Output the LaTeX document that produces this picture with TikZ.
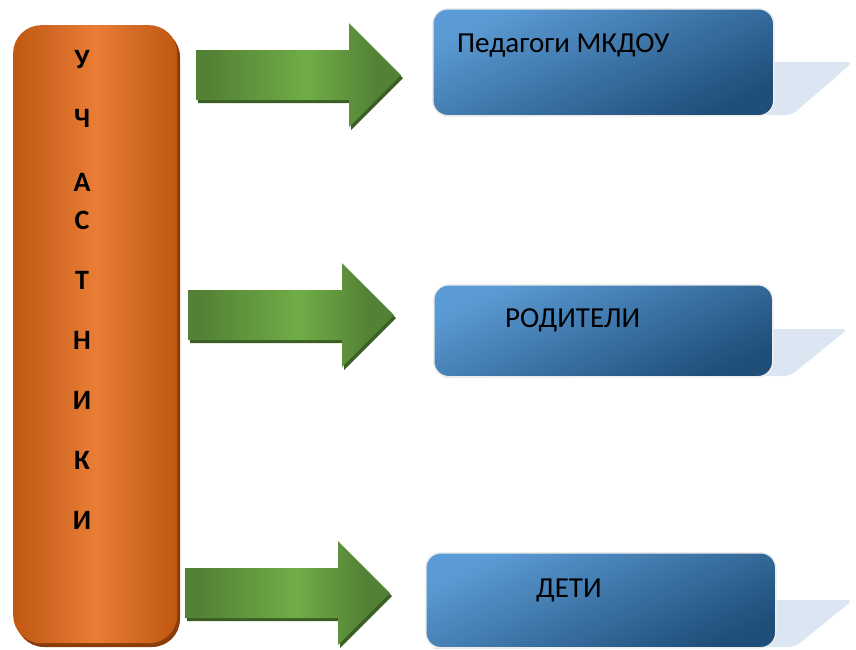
\documentclass[tikz,border=0pt]{standalone}
\usepackage{fontspec}
\setmainfont{Carlito}
\usetikzlibrary{positioning}
\definecolor{oradk}{HTML}{C25810}
\definecolor{oramid}{HTML}{CC6420}
\definecolor{oralt}{HTML}{EA7D35}
\definecolor{orashadow}{HTML}{8A3D0B}
\definecolor{grndk}{HTML}{538135}
\definecolor{grnlt}{HTML}{70AD47}
\definecolor{grnshadow}{HTML}{3B5E25}
\definecolor{blult}{HTML}{5B9BD5}
\definecolor{bludk}{HTML}{1F4E79}
\definecolor{blushadow}{HTML}{DCE6F2}
\definecolor{bluframe}{HTML}{EDEDED}
\pgfdeclarehorizontalshading{orangebar}{100bp}{color(0bp)=(oradk); color(25bp)=(oradk); color(34bp)=(oramid); color(50bp)=(oralt); color(66bp)=(oramid); color(75bp)=(oradk); color(100bp)=(oradk)}
\pgfdeclarehorizontalshading{greenbar}{100bp}{color(0bp)=(grndk); color(28bp)=(grndk); color(52bp)=(grnlt); color(69bp)=(grndk); color(100bp)=(grndk)}
\tikzset{
  letter/.style={font=\fontsize{28}{30}\selectfont\bfseries, inner sep=0pt},
  boxtext/.style={font=\fontsize{29}{34}\selectfont, inner sep=0pt, anchor=base west},
  bluebox/.style={rectangle, rounded corners=15pt, draw=bluframe, line width=1.5pt,
    top color=blult, bottom color=bludk, shading angle=25, anchor=north west},
  bigarrow/.pic={
    \fill[grnshadow] (2,-22) -- (#1+2,-22) -- (#1+2,-49) -- (#1+54,3) -- (#1+2,55) -- (#1+2,28) -- (2,28) -- cycle;
    \path[shading=greenbar] (0,-25) -- (#1,-25) -- (#1,-52) -- (#1+52,0) -- (#1,52) -- (#1,25) -- (0,25) -- cycle;
  }
}
\begin{document}
\begin{tikzpicture}[x=1pt,y=-1pt]
  \useasboundingbox (0,0) rectangle (856,649);

  % participants column
  \fill[orashadow, rounded corners=28pt] (16,29) rectangle (180,647);
  \node[rectangle, rounded corners=28pt, shading=orangebar, anchor=north west,
    minimum width=164pt, minimum height=618pt, inner sep=0pt] (col) at (13,25) {};
  \foreach \ch/\yy [count=\i] in {У/60,Ч/118,А/182,С/220,Т/280,Н/340,И/400,К/460,И/520}
    \node[letter] (l\i) at (82,\yy) {\ch};

  % arrows
  \pic at (196,75) {bigarrow=153};
  \pic at (188,315) {bigarrow=154};
  \pic at (185,593) {bigarrow=153};

  % shadows behind the boxes
  \fill[blushadow, rounded corners=6pt] (600,62) -- (853,62) -- (792,115) -- (440,117) -- cycle;
  \fill[blushadow, rounded corners=6pt] (600,329) -- (848,329) -- (790,376) -- (440,378) -- cycle;
  \fill[blushadow, rounded corners=6pt] (600,600) -- (853,600) -- (795,647) -- (430,649) -- cycle;

  % boxes
  \node[bluebox, minimum width=341pt, minimum height=107pt] (ped) at (432,8) {};
  \node[bluebox, minimum width=339pt, minimum height=92pt] (rod) at (433,284) {};
  \node[bluebox, minimum width=350pt, minimum height=95pt] (det) at (425,552) {};

  \node[boxtext] (pedtext) at (457,52) {Педагоги МКДОУ};
  \node[boxtext] (rodtext) at (505,327) {РОДИТЕЛИ};
  \node[boxtext] (dettext) at (536,597) {ДЕТИ};
\end{tikzpicture}
\end{document}
